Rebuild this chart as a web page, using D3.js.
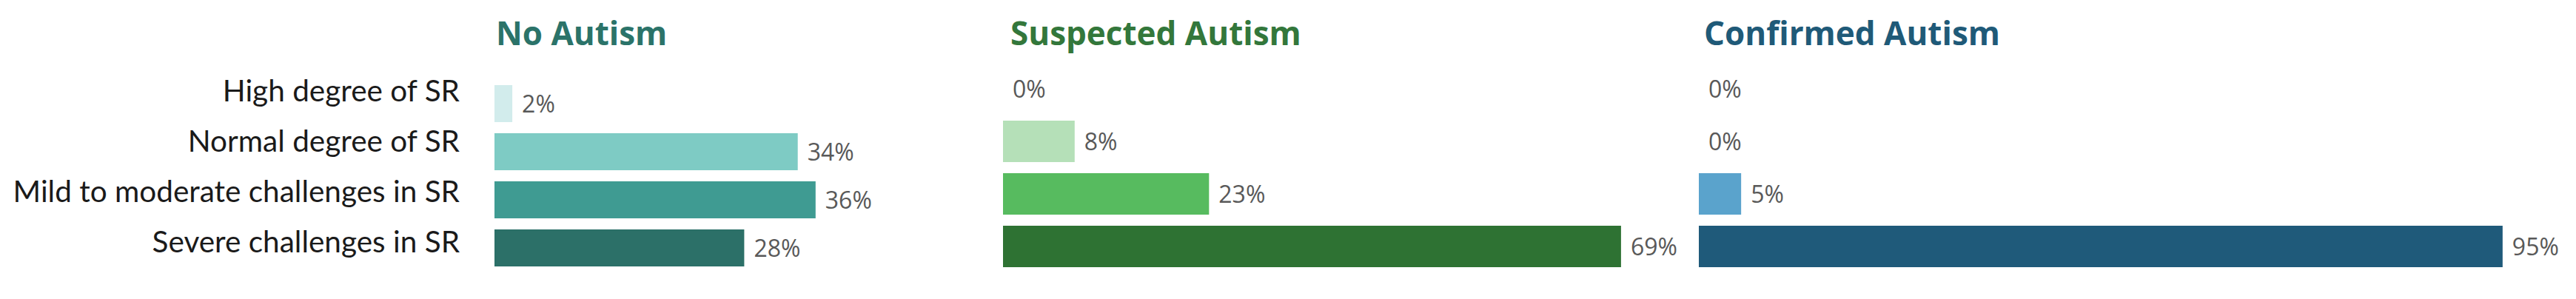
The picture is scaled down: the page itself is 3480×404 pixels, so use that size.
<!DOCTYPE html>
<html><head>
<meta charset="UTF-8">
<title>Self-regulation by autism group</title>
<script src="https://d3js.org/d3.v7.min.js"></script>
<style>
  body { margin: 0; background: #ffffff; }
  .title { font-family: "Open Sans", sans-serif; font-weight: 700; font-size: 44px; }
  .cat { font-family: "Lato", sans-serif; font-size: 40.5px; fill: #1a1a1a; }
  .val { font-family: "Open Sans", sans-serif; font-size: 32px; fill: #595959; }
</style>
</head>
<body>
<script>

// data
var categories = ["High degree of SR", "Normal degree of SR",
                  "Mild to moderate challenges in SR", "Severe challenges in SR"];
var groups = ["No Autism", "Suspected Autism", "Confirmed Autism"];
var noAutism  = [2, 34, 36, 28];
var suspected = [0, 8, 23, 69];
var confirmed = [0, 0, 5, 95];

var width = 3480, height = 404;

var svg = d3.select("body").append("svg")
    .attr("width", width)
    .attr("height", height)
    .style("background", "#ffffff");

// one entry per small chart: where it sits and how it looks
var panels = [
  { name: groups[0], values: noAutism,  x0: 668,  span: 1205, top: 107.5, bottom: 367.5, pad: 0.2308,
    titleColor: "#2b7369", colors: ["#d2ecec", "#7ecbc4", "#3f9b92", "#2c7068"], titleDx: 2 },
  { name: groups[1], values: suspected, x0: 1355, span: 1210, top: 84.5, bottom: 368.5, pad: 0.2113,
    titleColor: "#33773b", colors: ["#d7efd8", "#b5e0b8", "#57bb5f", "#2e7233"], titleDx: 10 },
  { name: groups[2], values: confirmed, x0: 2295, span: 1143, top: 84.5, bottom: 368.5, pad: 0.2113,
    titleColor: "#1f5a78", colors: ["#bcdcee", "#9ccbe6", "#5aa3cc", "#1f5a7a"], titleDx: 7 }
];

panels.forEach(function(p) {
  var x = d3.scaleLinear().domain([0, 100]).range([p.x0, p.x0 + p.span]);
  var y = d3.scaleBand().domain(categories)
      .range([p.top, p.bottom])
      .paddingInner(p.pad).paddingOuter(p.pad / 2);

  var g = svg.append("g");

  g.append("text")
      .attr("class", "title")
      .attr("x", p.x0 + p.titleDx)
      .attr("y", 61)
      .attr("fill", p.titleColor)
      .text(p.name);

  g.selectAll("rect").data(p.values).enter()
    .append("rect")
      .attr("x", x(0))
      .attr("y", function(d, i) { return y(categories[i]); })
      .attr("width", function(d) { return x(d) - x(0); })
      .attr("height", y.bandwidth())
      .attr("fill", function(d, i) { return p.colors[i]; });

  g.selectAll("text.val").data(p.values).enter()
    .append("text")
      .attr("class", "val")
      .attr("x", function(d) { return x(d) + 13; })
      .attr("y", function(d, i) { return y(categories[i]) + y.bandwidth() / 2; })
      .attr("dy", "0.36em")
      .text(function(d) { return d + "%"; });
});

// category labels on the left
var yLab = d3.scaleBand().domain(categories).range([89, 361]);
svg.append("g").selectAll("text").data(categories).enter()
  .append("text")
    .attr("class", "cat")
    .attr("x", 621)
    .attr("y", function(d) { return yLab(d) + yLab.bandwidth() / 2; })
    .attr("dy", "0.35em")
    .attr("text-anchor", "end")
    .text(function(d) { return d; });

</script>
</body>
</html>
